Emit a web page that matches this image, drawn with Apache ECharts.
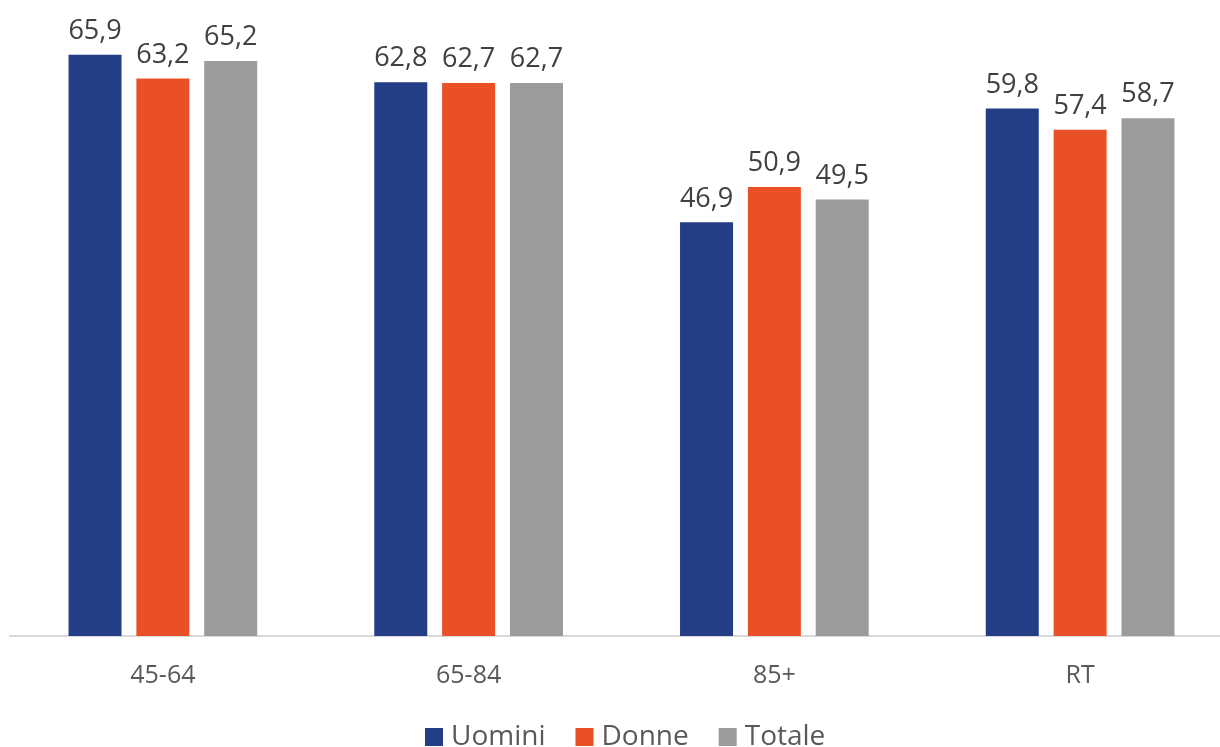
<!DOCTYPE html>
<html><head><meta charset="utf-8">
<script src="https://cdn.jsdelivr.net/npm/echarts@6/dist/echarts.min.js"></script>
<style>html,body{margin:0;padding:0;background:#fff;overflow:hidden}#c{width:1233px;height:747px}</style>
</head><body><div id="c"></div>
<script>
const categories = ['45-64', '65-84', '85+', 'RT'];
const uomini = [65.9, 62.8, 46.9, 59.8];
const donne = [63.2, 62.7, 50.9, 57.4];
const totale = [65.2, 62.7, 49.5, 58.7];
const seriesNames = ['Uomini', 'Donne', 'Totale'];
const colors = ['#233E86', '#EA5025', '#999B9C'];
const FONT = '"Open Sans", "Noto Sans", sans-serif';

const chart = echarts.init(document.getElementById('c'));
const mk = (name, data, color) => ({
  name, type: 'bar', data, barWidth: 53, barGap: '28%',
  itemStyle: { color },
  label: { show: true, position: 'top', distance: 10, color: '#404040', fontSize: 27, fontFamily: FONT,
    formatter: p => p.value.toFixed(1).replace('.', ',') }
});
chart.setOption({
  animation: false,
  textStyle: { fontFamily: FONT },
  legend: {
    left: 425, top: 723, padding: 0, itemWidth: 18, itemHeight: 18, itemGap: 30,
    icon: 'rect',
    textStyle: { fontSize: 28, color: '#595959', fontFamily: FONT, padding: [0, 0, 0, 3] },
    data: seriesNames
  },
  grid: { left: 10, right: 0, top: 1, height: 635, containLabel: false },
  xAxis: {
    type: 'category', data: categories,
    axisLine: { lineStyle: { color: '#D9D9D9', width: 2 } },
    axisTick: { show: false },
    axisLabel: { color: '#595959', fontSize: 25, margin: 27, fontFamily: FONT }
  },
  yAxis: { type: 'value', min: 0, max: 72, show: false, splitLine: { show: false } },
  series: [mk(seriesNames[0], uomini, colors[0]), mk(seriesNames[1], donne, colors[1]), mk(seriesNames[2], totale, colors[2])]
});
</script></body></html>
